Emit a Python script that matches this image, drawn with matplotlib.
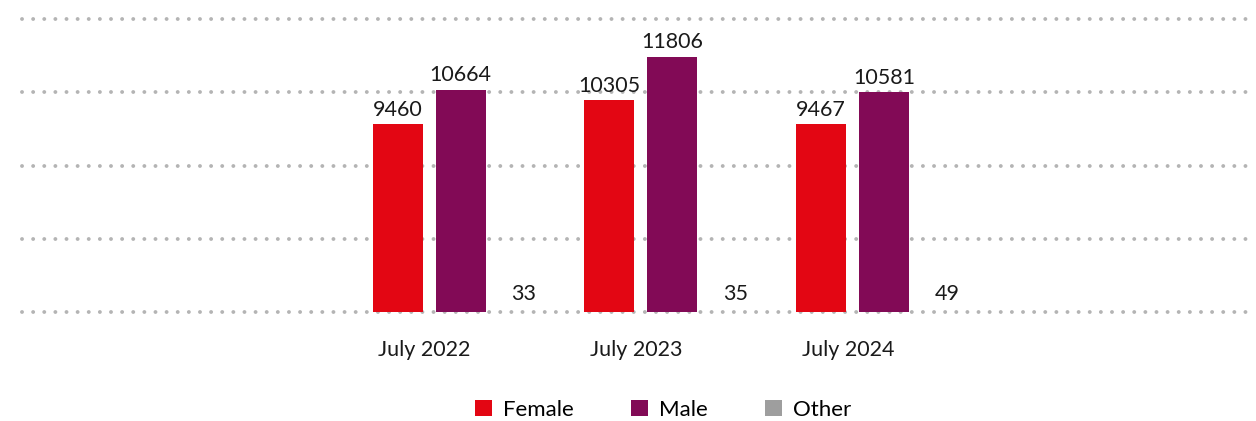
import numpy as np
import matplotlib.pyplot as plt
from matplotlib.patches import Patch

# data
periods = ["July 2022", "July 2023", "July 2024"]
female = [9460, 10305, 9467]
male = [10664, 11806, 10581]
other = [33, 35, 49]

series = [("Female", female, "#e30613"),
          ("Male", male, "#820a56"),
          ("Other", other, "#9e9e9e")]

plt.rcParams['font.family'] = ['Lato', 'DejaVu Sans']

fig = plt.figure(figsize=(12.56, 4.21), dpi=100)
ax = fig.add_axes([0.0175, 0.258, 0.9825, 0.697])

ylo, yhi = 2950, 13110
x = np.arange(len(periods))
width = 0.236
step = 0.297

for i, (name, vals, col) in enumerate(series):
    pos = x + (i - 1) * step
    ax.bar(pos, vals, width=width, color=col, bottom=0, zorder=3)
    for px_, v in zip(pos, vals):
        ax.annotate(str(v), (px_, max(v, ylo)), xytext=(0, 3 if v > ylo else 6),
                    textcoords="offset points", ha="center", va="bottom",
                    fontsize=15.5, color="#1a1a1a", zorder=4)

ax.set_ylim(ylo, yhi)
ax.set_xlim(-2.07, 3.755)

# dotted gridlines
for t in np.linspace(ylo, yhi, 5):
    ax.axhline(t, color="#b4b4b4", linewidth=2.8, linestyle=(0, (0.01, 2.85)),
               dash_capstyle="round", zorder=1, clip_on=False)

ax.set_xticks(x - 0.17)
ax.set_xticklabels(periods, fontsize=15.5, color="#1a1a1a")
ax.tick_params(axis="x", length=0, pad=20)
ax.set_yticks([])
for s in ax.spines.values():
    s.set_visible(False)

handles = [Patch(facecolor=c, label=n) for n, _, c in series]
fig.legend(handles=handles, loc="center", bbox_to_anchor=(0.528, 0.026),
           ncol=3, frameon=False, fontsize=16, handlelength=0.75, handleheight=0.75,
           handletextpad=0.5, columnspacing=2.6)

fig.savefig("out.png", dpi=100)
